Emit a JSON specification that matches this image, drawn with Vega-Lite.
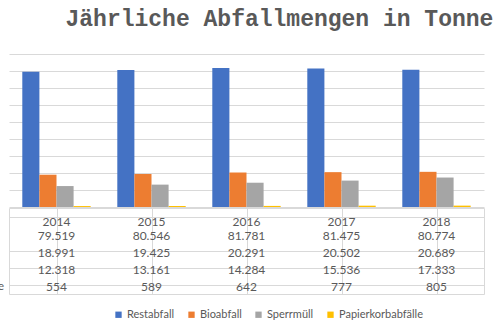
{
  "$schema": "https://vega.github.io/schema/vega-lite/v6.json",
  "padding": {"left": -89, "top": 8, "right": 0, "bottom": 0},
  "background": "white",
  "title": {
    "text": "Jährliche Abfallmengen in Tonne",
    "font": "Liberation Mono",
    "fontSize": 23,
    "fontWeight": "bold",
    "color": "#595959",
    "anchor": "start",
    "dx": 154,
    "offset": 23
  },
  "config": {
    "locale": {"number": {"decimal": ",", "thousands": ".", "grouping": [3], "currency": ["", " €"]}},
    "view": {"stroke": null},
    "font": "Lato",
    "concat": {"spacing": 0}
  },
  "data": {
    "values": [
      {"year": "2014", "series": "Restabfall", "value": 79519},
      {"year": "2014", "series": "Bioabfall", "value": 18991},
      {"year": "2014", "series": "Sperrmüll", "value": 12318},
      {"year": "2014", "series": "Papierkorbabfälle", "value": 554},
      {"year": "2015", "series": "Restabfall", "value": 80546},
      {"year": "2015", "series": "Bioabfall", "value": 19425},
      {"year": "2015", "series": "Sperrmüll", "value": 13161},
      {"year": "2015", "series": "Papierkorbabfälle", "value": 589},
      {"year": "2016", "series": "Restabfall", "value": 81781},
      {"year": "2016", "series": "Bioabfall", "value": 20291},
      {"year": "2016", "series": "Sperrmüll", "value": 14284},
      {"year": "2016", "series": "Papierkorbabfälle", "value": 642},
      {"year": "2017", "series": "Restabfall", "value": 81475},
      {"year": "2017", "series": "Bioabfall", "value": 20502},
      {"year": "2017", "series": "Sperrmüll", "value": 15536},
      {"year": "2017", "series": "Papierkorbabfälle", "value": 777},
      {"year": "2018", "series": "Restabfall", "value": 80774},
      {"year": "2018", "series": "Bioabfall", "value": 20689},
      {"year": "2018", "series": "Sperrmüll", "value": 17333},
      {"year": "2018", "series": "Papierkorbabfälle", "value": 805}
    ]
  },
  "vconcat": [
    {
      "width": 475,
      "height": 153,
      "mark": {"type": "bar"},
      "encoding": {
        "x": {"field": "year", "type": "nominal", "axis": null, "scale": {"paddingInner": 0.28, "paddingOuter": 0.14}},
        "xOffset": {"field": "series", "type": "nominal", "sort": ["Restabfall", "Bioabfall", "Sperrmüll", "Papierkorbabfälle"], "scale": {"paddingInner": 0}},
        "y": {
          "field": "value", "type": "quantitative",
          "scale": {"domain": [0, 90000]},
          "axis": {"labels": false, "ticks": false, "domain": false, "title": null, "values": [0, 10000, 20000, 30000, 40000, 50000, 60000, 70000, 80000, 90000], "gridColor": "#d9d9d9"}
        },
        "color": {
          "field": "series", "type": "nominal",
          "scale": {"domain": ["Restabfall", "Bioabfall", "Sperrmüll", "Papierkorbabfälle"], "range": ["#4472C4", "#ED7D31", "#A5A5A5", "#FFC000"]},
          "legend": {
            "title": null, "orient": "none", "direction": "horizontal",
            "legendX": 104, "legendY": 255,
            "symbolType": "square", "symbolSize": 40, "symbolStrokeWidth": 0,
            "labelFont": "Lato", "labelFontSize": 11, "labelColor": "#595959",
            "columnPadding": 11, "labelOffset": 3
          }
        }
      }
    },
    {
      "width": 475,
      "height": 86,
      "view": {"stroke": "#d9d9d9"},
      "encoding": {
        "x": {"field": "year", "type": "nominal", "scale": {"paddingInner": 0, "paddingOuter": 0},
              "axis": {"labels": false, "ticks": false, "domain": false, "title": null, "grid": true, "bandPosition": 0, "gridColor": "#d9d9d9"}},
        "y": {"field": "series", "type": "nominal",
              "scale": {"domain": ["Jahr", "Restabfall", "Bioabfall", "Sperrmüll", "Papierkorbabfälle"], "paddingInner": 0, "paddingOuter": 0},
              "axis": {"values": ["Jahr", "Restabfall", "Bioabfall", "Sperrmüll", "Papierkorbabfälle"], "labelExpr": "datum.value == 'Jahr' ? '' : datum.value", "ticks": false, "domain": false, "title": null, "grid": true, "gridColor": "#d9d9d9", "gridOpacity": {"condition": {"test": "datum.value == 'Restabfall'", "value": 0}, "value": 1}, "bandPosition": 0, "labelFont": "Lato", "labelFontSize": 12, "labelColor": "#595959", "labelAlign": "left", "labelPadding": 97}}
      },
      "layer": [
        {
          "mark": {"type": "text", "font": "Lato", "fontSize": 12, "color": "#595959", "dy": 2},
          "encoding": {"text": {"field": "value", "type": "quantitative", "format": ",d"}}
        },
        {
          "transform": [{"filter": "datum.series == 'Restabfall'"}],
          "mark": {"type": "text", "font": "Lato", "fontSize": 12, "color": "#595959", "dy": 5},
          "encoding": {"y": {"datum": "Jahr"}, "text": {"field": "year", "type": "nominal"}}
        }
      ]
    }
  ]
}
